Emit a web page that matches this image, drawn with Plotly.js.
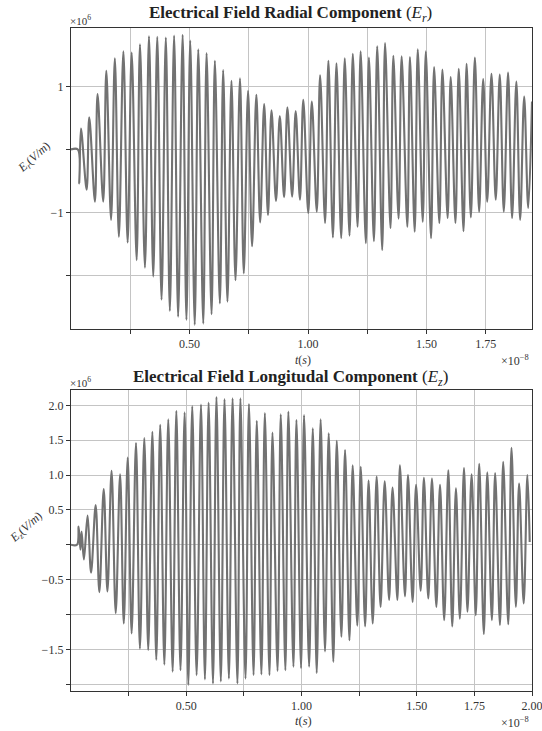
<!DOCTYPE html>
<html><head><meta charset="utf-8">
<script src="https://cdn.plot.ly/plotly-3.0.1.min.js"></script>
<style>html,body{margin:0;padding:0;background:#fff}</style>
</head><body>
<div id="chart" style="width:542px;height:731px"></div>
<script>
// Time in units of 1e-8 s, field in units of 1e6 V/m (values read at the extrema of the traces)
const erTime = [0,0.029,0.035,0.042,0.066,0.077,0.101,0.112,0.136,0.149,0.169,0.185,0.202,0.221,0.239,0.256,0.277,0.291,0.312,0.329,0.347,0.364,0.382,0.400,0.417,0.435,0.452,0.471,0.487,0.503,0.522,0.537,0.558,0.572,0.593,0.607,0.628,0.642,0.660,0.677,0.694,0.713,0.729,0.747,0.764,0.782,0.798,0.815,0.831,0.846,0.865,0.881,0.899,0.913,0.933,0.948,0.966,0.980,1.001,1.016,1.037,1.051,1.072,1.086,1.105,1.120,1.140,1.155,1.175,1.189,1.209,1.222,1.244,1.257,1.278,1.292,1.313,1.325,1.348,1.360,1.382,1.395,1.419,1.430,1.450,1.463,1.484,1.497,1.519,1.532,1.554,1.567,1.589,1.602,1.622,1.636,1.656,1.669,1.687,1.704,1.722,1.739,1.756,1.774,1.792,1.809,1.826,1.844,1.861,1.879,1.895,1.912,1.929,1.945];
const erValue = [0,0,-0.54,0.33,-0.64,0.51,-0.83,0.88,-0.83,1.25,-1.12,1.45,-1.39,1.56,-1.48,1.54,-1.76,1.67,-1.88,1.80,-2.02,1.79,-2.39,1.78,-2.57,1.81,-2.66,1.82,-2.71,1.73,-2.79,1.59,-2.77,1.53,-2.62,1.41,-2.45,1.26,-2.42,1.09,-2.08,1.13,-1.97,0.93,-1.54,0.87,-1.16,0.72,-1.04,0.62,-0.82,0.53,-0.76,0.67,-0.75,0.61,-0.80,0.79,-1.01,0.76,-0.99,1.18,-1.17,1.41,-1.40,1.37,-1.41,1.45,-1.37,1.52,-1.23,1.56,-1.49,1.46,-1.46,1.64,-1.60,1.69,-1.25,1.49,-1.10,1.48,-1.23,1.47,-1.31,1.59,-1.15,1.56,-1.41,1.31,-1.17,1.27,-1.09,1.15,-1.17,1.28,-1.30,1.36,-1.08,1.46,-0.99,1.12,-0.83,1.20,-0.80,1.19,-0.99,1.22,-1.09,1.08,-1.12,0.84,-0.93,0.76];

const ezTime = [0,0.026,0.033,0.041,0.046,0.056,0.072,0.087,0.107,0.123,0.142,0.158,0.176,0.194,0.213,0.229,0.246,0.263,0.282,0.299,0.318,0.335,0.353,0.370,0.387,0.405,0.422,0.441,0.457,0.475,0.493,0.509,0.526,0.545,0.564,0.581,0.597,0.616,0.631,0.650,0.666,0.685,0.701,0.722,0.735,0.757,0.772,0.792,0.806,0.826,0.841,0.861,0.874,0.896,0.910,0.930,0.943,0.965,0.978,0.998,1.011,1.033,1.049,1.066,1.083,1.102,1.118,1.138,1.153,1.173,1.189,1.208,1.222,1.242,1.257,1.276,1.291,1.309,1.326,1.343,1.361,1.380,1.395,1.416,1.427,1.449,1.462,1.482,1.497,1.517,1.531,1.550,1.566,1.585,1.601,1.619,1.637,1.654,1.670,1.687,1.705,1.720,1.738,1.756,1.771,1.791,1.806,1.826,1.840,1.861,1.875,1.897,1.911,1.930,1.944,1.964,1.980,1.990];
const ezValue = [0,0,0.26,-0.07,0.19,-0.21,0.42,-0.40,0.57,-0.68,0.80,-0.67,1.06,-0.98,1.01,-1.13,1.25,-1.27,1.46,-1.49,1.53,-1.51,1.62,-1.65,1.72,-1.72,1.80,-1.82,1.92,-1.80,1.90,-2.01,1.99,-1.87,2.01,-1.93,2.04,-1.99,2.12,-1.96,2.09,-1.92,2.10,-1.99,2.10,-1.92,2.02,-1.87,1.78,-1.86,1.89,-1.87,1.61,-1.81,1.87,-1.80,1.91,-1.75,1.79,-1.77,1.86,-1.75,1.67,-1.84,1.80,-1.53,1.60,-1.68,1.49,-1.32,1.36,-1.37,1.14,-1.16,1.12,-1.17,0.92,-1.13,0.98,-0.89,0.91,-0.79,0.82,-0.79,1.14,-0.74,1.00,-0.82,0.86,-0.66,0.96,-0.77,0.95,-0.89,0.86,-1.08,1.07,-1.17,0.81,-1.06,1.10,-0.96,1.01,-1.01,1.16,-1.28,1.04,-1.08,1.03,-1.15,1.19,-1.14,1.39,-0.89,0.88,-0.84,1.00,0.04];

// Labelled ticks
const erTickVals = [-1, 1];
const erTickText = ['\u22121', '1'];
const ezTickVals = [-1.5, -0.5, 0.5, 1, 1.5, 2];
const ezTickText = ['\u22121.5', '\u22120.5', '0.5', '1.0', '1.5', '2.0'];
const topXTickVals = [0.5, 1.0, 1.5, 1.75];
const topXTickText = ['0.50', '1.00', '1.50', '1.75'];
const botXTickVals = [0.5, 1.0, 1.5, 1.75, 2.0];
const botXTickText = ['0.50', '1.00', '1.50', '1.75', '2.00'];
// Unlabelled ticks (tick mark + grid line only)
const erMinorVals = [-2, 0];
const ezMinorVals = [-2, -1, 0];
const xMinorVals = [0.25, 0.75, 1.25];

const lineColor = '#727272';
const serif = 'Liberation Serif, DejaVu Serif, serif';
const gridColor = '#c4c4c4';

const traces = [
  {x: erTime, y: erValue, xaxis: 'x', yaxis: 'y', type: 'scatter', mode: 'lines',
   line: {color: lineColor, width: 2.1, shape: 'spline', smoothing: 1}, hoverinfo: 'skip'},
  {x: ezTime, y: ezValue, xaxis: 'x2', yaxis: 'y2', type: 'scatter', mode: 'lines',
   line: {color: lineColor, width: 2.1, shape: 'spline', smoothing: 1}, hoverinfo: 'skip'}
];

function minorOf(vals) {
  return {tickmode: 'array', tickvals: vals, ticks: 'outside', ticklen: 4, tickwidth: 1,
          tickcolor: '#333', showgrid: true, gridcolor: gridColor, gridwidth: 1};
}

const axCommon = {
  showgrid: true, gridcolor: gridColor, gridwidth: 1, zeroline: false,
  showline: true, linecolor: '#333', linewidth: 1.2, mirror: true,
  ticks: 'outside', ticklen: 4, tickwidth: 1, tickcolor: '#333',
  tickfont: {family: serif, size: 12, color: '#333'}, tickmode: 'array',
  ticklabeloverflow: 'allow'
};

function pyf(px) { return (731 - px) / 731; }
function pxf(px) { return (px - 71) / 461; }

const ann = (text, x, y, opts) => Object.assign({
  text: text, xref: 'paper', yref: 'paper', x: pxf(x), y: pyf(y),
  showarrow: false, font: {family: serif, size: 11, color: '#333'},
  xanchor: 'center', yanchor: 'middle'
}, opts || {});

const layout = {
  width: 542, height: 731,
  margin: {l: 71, r: 10, t: 0, b: 0},
  paper_bgcolor: '#fff', plot_bgcolor: '#fff',
  showlegend: false,
  xaxis: Object.assign({}, axCommon, {domain: [0,1], range: [0, 1.945], tickvals: topXTickVals, ticktext: topXTickText, minor: minorOf(xMinorVals), anchor: 'y', ticklabelstandoff: -1}),
  yaxis: Object.assign({}, axCommon, {domain: [pyf(329), pyf(28)], range: [-2.855, 1.93], tickvals: erTickVals, ticktext: erTickText, minor: minorOf(erMinorVals), anchor: 'x'}),
  xaxis2: Object.assign({}, axCommon, {domain: [0,1], range: [0, 2.0], tickvals: botXTickVals, ticktext: botXTickText, minor: minorOf(xMinorVals), anchor: 'y2'}),
  yaxis2: Object.assign({}, axCommon, {domain: [pyf(690.5), pyf(390)], range: [-2.09, 2.22], tickvals: ezTickVals, ticktext: ezTickText, minor: minorOf(ezMinorVals), anchor: 'x2'}),
  annotations: [
    ann('<b>Electrical Field Radial Component</b> (<i>E<sub>r</sub></i>)', 290, 14, {font: {family: serif, size: 17, color: '#222'}}),
    ann('<b>Electrical Field Longitudal Component</b> (<i>E<sub>z</sub></i>)', 290, 378, {font: {family: serif, size: 17, color: '#222'}}),
    ann('\u00d710<sup>6</sup>', 68, 20, {xanchor: 'left', font: {family: serif, size: 11, color: '#333'}}),
    ann('\u00d710<sup>6</sup>', 68, 382, {xanchor: 'left', font: {family: serif, size: 11, color: '#333'}}),
    ann('\u00d710<sup>\u22128</sup>', 531, 360, {xanchor: 'right', font: {family: serif, size: 12, color: '#333'}}),
    ann('\u00d710<sup>\u22128</sup>', 531, 722, {xanchor: 'right', font: {family: serif, size: 12, color: '#333'}}),
    ann('<i>t</i>(<i>s</i>)', 303, 360, {font: {family: serif, size: 12, color: '#333'}}),
    ann('<i>t</i>(<i>s</i>)', 303, 721, {font: {family: serif, size: 12.5, color: '#333'}}),
    ann('<i>E<sub>r</sub></i>(<i>V/m</i>)', 34, 158, {textangle: -42, font: {family: serif, size: 12, color: '#333'}}),
    ann('<i>E<sub>z</sub></i>(<i>V/m</i>)', 26, 528, {textangle: -42, font: {family: serif, size: 12, color: '#333'}})
  ]
};

Plotly.newPlot('chart', traces, layout, {displayModeBar: false, staticPlot: true});
</script>
</body></html>
